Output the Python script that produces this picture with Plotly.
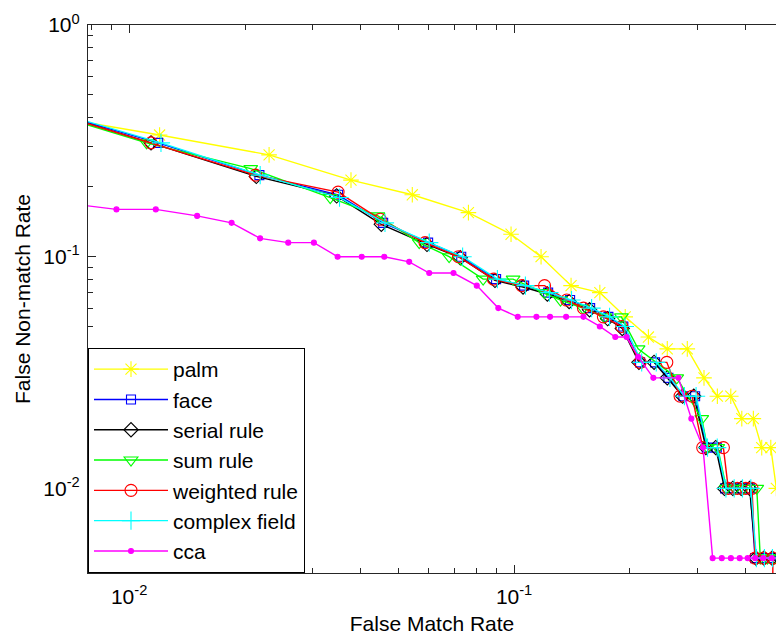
import numpy as np
import plotly.graph_objects as go

# ---------------- data ----------------
palm_x = [0.005, 0.012, 0.0231, 0.0377, 0.0544, 0.0761, 0.0982, 0.1175, 0.1406, 0.167, 0.1944,
          0.2233, 0.25, 0.2818, 0.3114, 0.3373, 0.3655, 0.3904, 0.4183, 0.4398, 0.4643, 0.48, 0.52]
palm_y = [0.43, 0.335, 0.275, 0.214, 0.185, 0.155, 0.125, 0.1, 0.075, 0.07, 0.055,
          0.045, 0.04, 0.04, 0.03, 0.025, 0.025, 0.02, 0.02, 0.015, 0.015, 0.01, 0.01]

face_x = [0.005, 0.0119, 0.0218, 0.0349, 0.0457, 0.0598, 0.0729, 0.0898, 0.1062, 0.1226, 0.1398,
          0.1576, 0.1758, 0.1922, 0.2125, 0.2324, 0.2517, 0.2753, 0.2953, 0.3166, 0.3361, 0.3532,
          0.3713, 0.3904, 0.4102, 0.4227, 0.4441, 0.4667, 0.49]
face_y = [0.47, 0.31, 0.225, 0.185, 0.14, 0.115, 0.1, 0.08, 0.075, 0.07, 0.065,
          0.06, 0.055, 0.05, 0.035, 0.035, 0.03, 0.025, 0.025, 0.015, 0.015, 0.01,
          0.01, 0.01, 0.01, 0.005, 0.005, 0.005, 0.005]

serial_x = [0.005, 0.0114, 0.0214, 0.0346, 0.0452, 0.0594, 0.0725, 0.0892, 0.1055, 0.122, 0.139,
            0.157, 0.175, 0.191, 0.211, 0.231, 0.250, 0.274, 0.293, 0.315, 0.334, 0.352,
            0.370, 0.389, 0.409, 0.425, 0.446, 0.468, 0.49]
serial_y = [0.47, 0.31, 0.222, 0.183, 0.138, 0.113, 0.099, 0.079, 0.074, 0.069, 0.064,
            0.059, 0.054, 0.049, 0.035, 0.035, 0.03, 0.025, 0.025, 0.015, 0.015, 0.01,
            0.01, 0.01, 0.01, 0.005, 0.005, 0.005, 0.005]

sum_x = [0.005, 0.0111, 0.0207, 0.0333, 0.0443, 0.0567, 0.0678, 0.0831, 0.0994, 0.12, 0.132,
         0.151, 0.172, 0.19, 0.21, 0.2646, 0.3073, 0.318, 0.338, 0.356, 0.375, 0.395, 0.427,
         0.436, 0.455, 0.475, 0.49]
sum_y = [0.465, 0.31, 0.24, 0.18, 0.15, 0.115, 0.1, 0.08, 0.08, 0.07, 0.065,
         0.06, 0.055, 0.055, 0.04, 0.03, 0.02, 0.015, 0.015, 0.01, 0.01, 0.01, 0.01,
         0.005, 0.005, 0.005, 0.005]

weighted_x = [0.005, 0.0114, 0.0213, 0.0349, 0.0449, 0.0587, 0.0717, 0.0884, 0.1047, 0.12, 0.137,
              0.1514, 0.1706, 0.1904, 0.2125, 0.2493, 0.2699, 0.29, 0.309, 0.3497, 0.36, 0.38,
              0.40, 0.415, 0.4227, 0.445, 0.47, 0.47]
weighted_y = [0.47, 0.31, 0.225, 0.19, 0.145, 0.115, 0.1, 0.08, 0.075, 0.075, 0.065,
              0.06, 0.055, 0.05, 0.035, 0.035, 0.025, 0.025, 0.015, 0.015, 0.01, 0.01,
              0.01, 0.01, 0.005, 0.005, 0.005, 0.002]

complex_x = [0.005, 0.0121, 0.0219, 0.0352, 0.0462, 0.0602, 0.0735, 0.0905, 0.107, 0.1235, 0.141,
             0.159, 0.177, 0.194, 0.2145, 0.234, 0.254, 0.277, 0.297, 0.318, 0.337, 0.355,
             0.373, 0.392, 0.412, 0.426, 0.447, 0.469, 0.49]
complex_y = [0.475, 0.31, 0.225, 0.18, 0.14, 0.115, 0.1, 0.08, 0.075, 0.07, 0.065,
             0.06, 0.055, 0.05, 0.035, 0.035, 0.03, 0.025, 0.025, 0.015, 0.015, 0.01,
             0.01, 0.01, 0.01, 0.005, 0.005, 0.005, 0.005]

cca_x = [0.006, 0.00927, 0.01173, 0.01502, 0.01846, 0.02189, 0.0259, 0.0302, 0.0348, 0.0402,
         0.046, 0.0534, 0.0602, 0.0696, 0.08, 0.091, 0.1022, 0.1143, 0.124, 0.1365, 0.1514,
         0.167, 0.1832, 0.196, 0.21, 0.23, 0.2672, 0.2887, 0.3096, 0.3279, 0.3463, 0.3657,
         0.3855, 0.4043, 0.4227, 0.4441, 0.467, 0.49]
cca_y = [0.175, 0.16, 0.16, 0.15, 0.14, 0.12, 0.115, 0.115, 0.1, 0.1,
         0.1, 0.095, 0.085, 0.085, 0.075, 0.06, 0.055, 0.055, 0.055, 0.055, 0.055,
         0.05, 0.045, 0.045, 0.037, 0.03, 0.03, 0.02, 0.015, 0.005, 0.005, 0.005,
         0.005, 0.005, 0.005, 0.005, 0.005, 0.005]

x_limits = [0.00782, 0.479]
y_limits = [0.004313, 1.0]
x_major = [0.01, 0.1]
x_major_text = ["10<sup>-2</sup>", "10<sup>-1</sup>"]
x_minor = [0.008, 0.009, 0.02, 0.03, 0.04, 0.05, 0.06, 0.07, 0.08, 0.09, 0.2, 0.3, 0.4]
y_major = [0.01, 0.1, 1.0]
y_major_text = ["10<sup>-2</sup>", "10<sup>-1</sup>", "10<sup>0</sup>"]
y_minor = [0.005, 0.006, 0.007, 0.008, 0.009, 0.02, 0.03, 0.04, 0.05, 0.06, 0.07, 0.08, 0.09,
           0.2, 0.3, 0.4, 0.5, 0.6, 0.7, 0.8, 0.9]

series = [
    ("palm", palm_x, palm_y, "#FFFF00", "asterisk-open", 13),
    ("face", face_x, face_y, "#0000FF", "square-open", 9),
    ("serial rule", serial_x, serial_y, "#000000", "diamond-open", 11),
    ("sum rule", sum_x, sum_y, "#00FF00", "triangle-down-open", 12),
    ("weighted rule", weighted_x, weighted_y, "#FF0000", "circle-open", 12),
    ("complex field", complex_x, complex_y, "#00FFFF", "cross-thin-open", 13),
    ("cca", cca_x, cca_y, "#FF00FF", "circle", 5),
]

FONT = "Liberation Sans, Arial, Helvetica, sans-serif"
AX = "#262626"

fig = go.Figure()
for name, xs, ys, col, sym, sz in series:
    fig.add_trace(go.Scatter(
        x=xs, y=ys, name=name, mode="lines+markers",
        line=dict(color=col, width=1.4),
        marker=dict(symbol=sym, size=sz, color=col, line=dict(color=col, width=1.1)),
    ))

fig.update_layout(
    width=776, height=635,
    margin=dict(l=88, r=0, t=25, b=62, autoexpand=False),
    paper_bgcolor="white", plot_bgcolor="white",
    font=dict(family=FONT, size=21, color="black"),
    showlegend=True,
    legend=dict(x=0, y=0, xanchor="left", yanchor="bottom",
                bordercolor="black", borderwidth=1, bgcolor="white",
                font=dict(family=FONT, size=21, color="black"),
                itemwidth=74, traceorder="normal"),
    xaxis=dict(type="log", range=[np.log10(x_limits[0]), np.log10(x_limits[1])],
               automargin=False,
               showgrid=False, zeroline=False, showline=True, linecolor=AX, linewidth=1.2,
               mirror="ticks", ticks="inside", ticklen=8, tickcolor=AX, tickwidth=1.1,
               tickvals=x_major, ticktext=x_major_text, ticklabelstandoff=5,
               tickfont=dict(family=FONT, size=21, color="black"),
               minor=dict(tickvals=x_minor, ticks="inside", ticklen=4.5, tickcolor=AX, tickwidth=1.1),
               title=dict(text="False Match Rate", standoff=9,
                          font=dict(family=FONT, size=21, color="black"))),
    yaxis=dict(type="log", range=[np.log10(y_limits[0]), np.log10(y_limits[1])],
               automargin=False,
               showgrid=False, zeroline=False, showline=True, linecolor=AX, linewidth=1.2,
               ticks="inside", ticklen=8, tickcolor=AX, tickwidth=1.1,
               tickvals=y_major, ticktext=y_major_text, ticklabelstandoff=3,
               tickfont=dict(family=FONT, size=21, color="black"),
               minor=dict(tickvals=y_minor, ticks="inside", ticklen=4.5, tickcolor=AX, tickwidth=1.1),
               title=dict(text="False Non-match Rate", standoff=6,
                          font=dict(family=FONT, size=21, color="black"))),
)

# remove the browser's default page margin so the 776x635 figure fills the window exactly
fig.write_html("out.html",
               config={"displayModeBar": False},
               post_script="document.body.style.margin='0';document.body.style.overflow='hidden';")
